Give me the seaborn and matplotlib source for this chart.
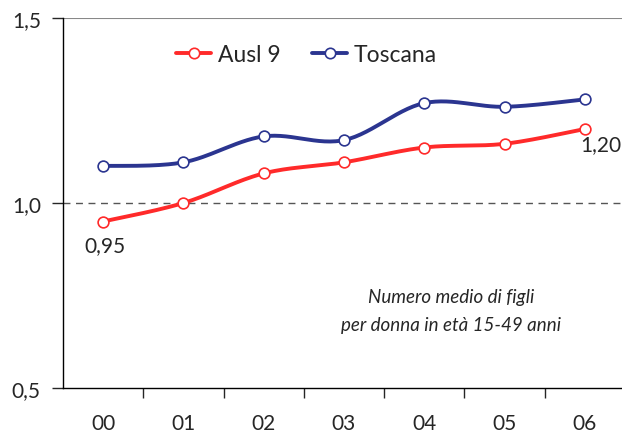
import numpy as np
import pandas as pd
import seaborn as sns
import matplotlib.pyplot as plt

# --- data ---
anni = ["00", "01", "02", "03", "04", "05", "06"]
ausl9 = [0.95, 1.00, 1.08, 1.11, 1.15, 1.16, 1.20]
toscana = [1.10, 1.11, 1.18, 1.17, 1.27, 1.26, 1.28]
y_ticks = [0.5, 1.0, 1.5]
y_labels = ["0,5", "1,0", "1,5"]

sns.set_style("white")
plt.rcParams["font.family"] = ["Lato", "DejaVu Sans"]

ROSSO = "#ff2a2a"
BLU = "#2b3590"


def smooth(y, n=30):
    # catmull-rom style smoothing, like the spreadsheet "smoothed line"
    y = np.asarray(y, dtype=float)
    x = np.arange(len(y), dtype=float)
    px = np.concatenate([[x[0]], x, [x[-1]]])
    py = np.concatenate([[y[0]], y, [y[-1]]])
    t = np.linspace(0, 1, n)
    xs, ys = [], []
    for i in range(1, len(px) - 2):
        for src, out in ((py, ys), (px, xs)):
            p0, p1, p2, p3 = src[i - 1], src[i], src[i + 1], src[i + 2]
            c1 = p1 + (p2 - p0) / 6
            c2 = p2 - (p3 - p1) / 6
            out.append((1 - t) ** 3 * p1 + 3 * (1 - t) ** 2 * t * c1
                       + 3 * (1 - t) * t ** 2 * c2 + t ** 3 * p2)
    return np.concatenate(xs), np.concatenate(ys)


fig = plt.figure(figsize=(6.22, 4.39), dpi=100)
ax = fig.add_axes([63 / 622, 50 / 439, 562 / 622, 370 / 439])

df = pd.DataFrame({"x": np.arange(len(anni)), "Ausl 9": ausl9, "Toscana": toscana})

for serie, col in [("Ausl 9", ROSSO), ("Toscana", BLU)]:
    sx, sy = smooth(df[serie])
    ax.plot(sx, sy, color=col, lw=2.8, zorder=2)
    sns.scatterplot(data=df, x="x", y=serie, ax=ax, s=60, facecolor="white",
                    edgecolor=col, linewidth=1.2, zorder=3, legend=False)
    ax.plot([], [], color=col, lw=2.8, marker="o", ms=7.5, mfc="white",
            mec=col, mew=1.2, label=serie)

ax.axhline(1.0, color="#555555", lw=1, ls=(0, (5, 4)), zorder=1)
ax.axhline(1.5, color="#888888", lw=1.5, zorder=1)

ax.set_xlim(-0.5, 6.5)
ax.set_ylim(0.5, 1.5)
ax.set_xticks(range(len(anni)))
ax.set_xticklabels(anni, fontsize=15)
ax.set_xticks(np.arange(0.5, 6.5, 1), minor=True)
ax.tick_params(axis="x", which="major", length=0, pad=18)
ax.tick_params(axis="x", which="minor", length=7, width=1, direction="out", bottom=True)
ax.set_yticks(y_ticks)
ax.set_yticklabels(y_labels, fontsize=15)
ax.tick_params(axis="y", length=8, width=1, direction="out", left=True, pad=8)
ax.set_xlabel("")
ax.set_ylabel("")

for s in ["top", "right"]:
    ax.spines[s].set_visible(False)
for s in ["left", "bottom"]:
    ax.spines[s].set_color("black")
    ax.spines[s].set_linewidth(1)

ax.text(0.02, 0.887, "0,95", fontsize=15, ha="center", va="center")
ax.text(6.2, 1.16, "1,20", fontsize=15, ha="center", va="center")
ax.text(4.33, 0.71, "Numero medio di figli\nper donna in età 15-49 anni",
        fontsize=13.5, style="italic", ha="center", va="center", linespacing=1.75)

ax.legend(loc="upper left", bbox_to_anchor=(0.165, 0.985), ncol=2, frameon=False,
          fontsize=16.5, handlelength=1.5, handletextpad=0.3, columnspacing=1.4)

fig.savefig("out.png", dpi=100)
